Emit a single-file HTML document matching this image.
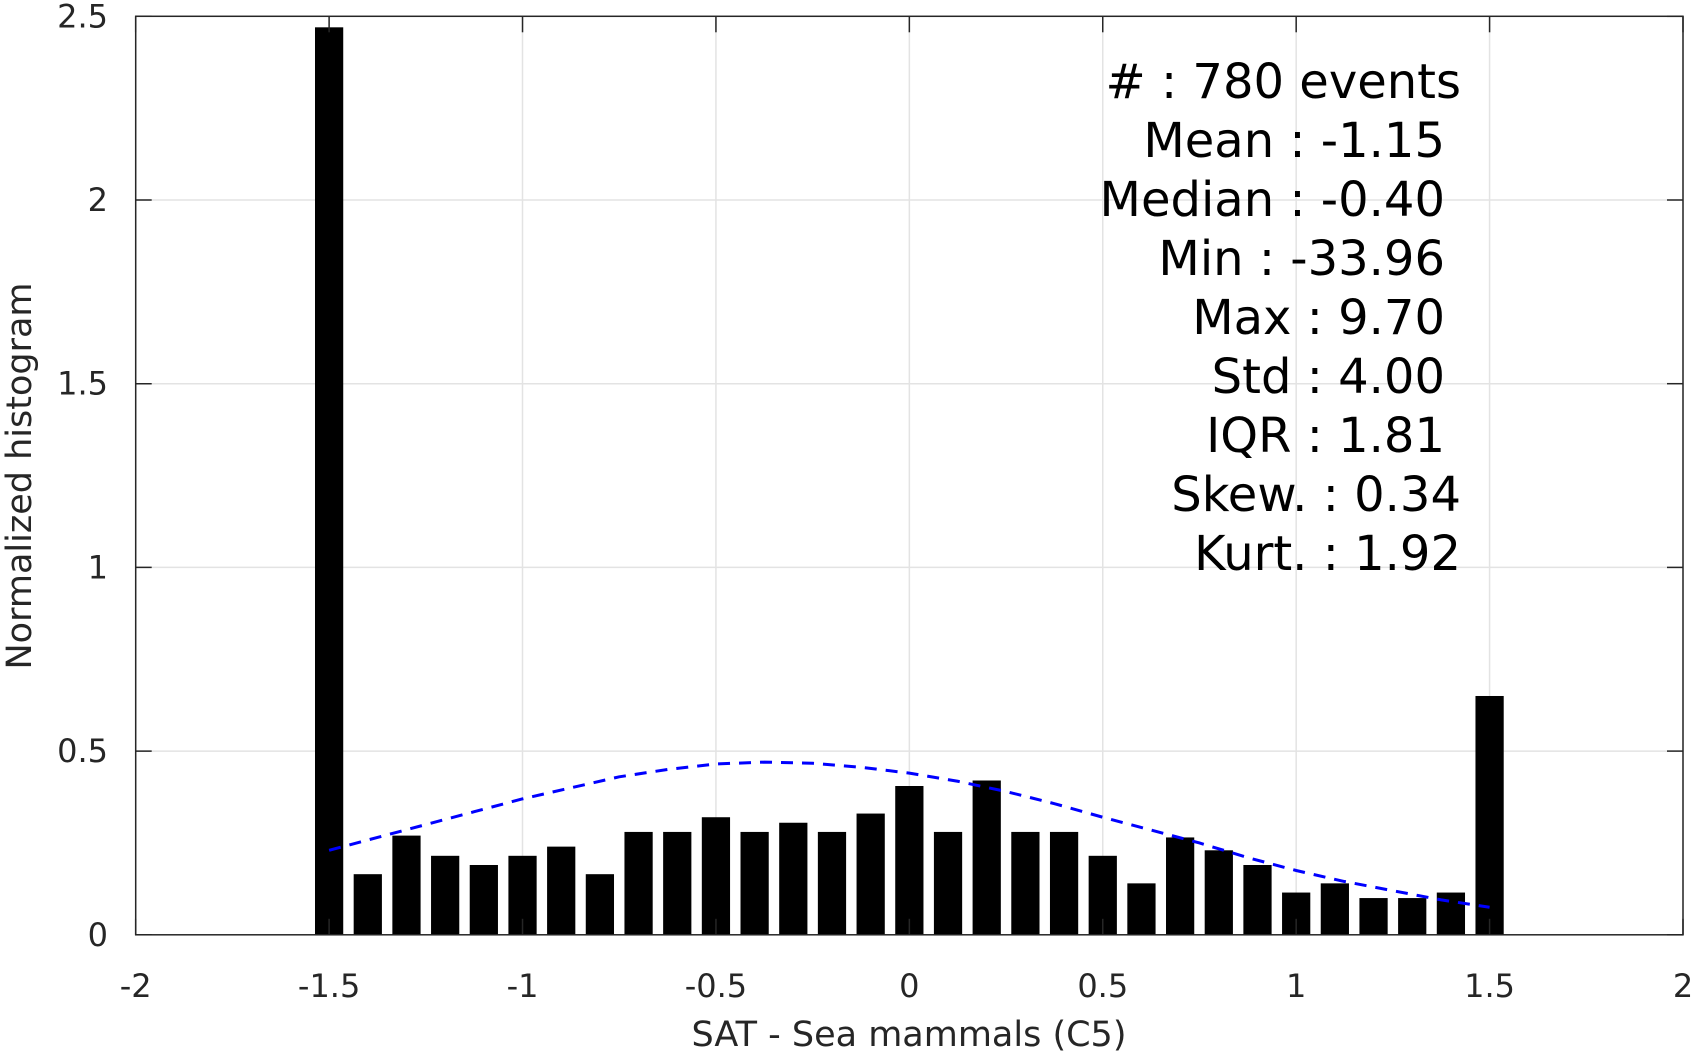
<!DOCTYPE html>
<html><head><meta charset="utf-8"><style>body{margin:0;background:#fff}svg{display:block}text{font-family:"DejaVu Sans","Liberation Sans",sans-serif;fill:#262626}</style></head>
<body>
<svg id="chart" width="1703" height="1053" xmlns="http://www.w3.org/2000/svg">
<g id="grid"></g>
<g id="bars"></g>
<g id="curve"></g>
<g id="axes"></g>
<g id="stats"></g>
<text x="909" y="1046" font-size="35" text-anchor="middle">SAT - Sea mammals (C5)</text>
<text transform="translate(31,476) rotate(-90)" font-size="35" text-anchor="middle">Normalized histogram</text>
</svg>
<script>
const binCenters=[-1.5,-1.4,-1.3,-1.2,-1.1,-1.0,-0.9,-0.8,-0.7,-0.6,-0.5,-0.4,-0.3,-0.2,-0.1,0,0.1,0.2,0.3,0.4,0.5,0.6,0.7,0.8,0.9,1.0,1.1,1.2,1.3,1.4,1.5];
const binValues=[2.47,0.165,0.27,0.215,0.19,0.215,0.24,0.165,0.28,0.28,0.32,0.28,0.305,0.28,0.33,0.405,0.28,0.42,0.28,0.28,0.215,0.14,0.265,0.23,0.19,0.115,0.14,0.1,0.1,0.115,0.65];
const curveX=[-1.5,-1.375,-1.25,-1.125,-1.0,-0.875,-0.75,-0.625,-0.5,-0.375,-0.25,-0.125,0,0.125,0.25,0.375,0.5,0.625,0.75,0.875,1.0,1.125,1.25,1.375,1.5];
const curveY=[0.23,0.265,0.30,0.335,0.37,0.40,0.43,0.45,0.465,0.47,0.467,0.456,0.44,0.418,0.39,0.357,0.32,0.285,0.25,0.21,0.175,0.145,0.12,0.095,0.075];
const xTicks=[-2,-1.5,-1,-0.5,0,0.5,1,1.5,2];
const xTickLabels=["-2","-1.5","-1","-0.5","0","0.5","1","1.5","2"];
const yTicks=[0,0.5,1,1.5,2,2.5];
const yTickLabels=["0","0.5","1","1.5","2","2.5"];
const statLines=["#  : 780 events","Mean : -1.15","Median : -0.40","Min : -33.96","Max : 9.70","Std : 4.00","IQR : 1.81","Skew. : 0.34","Kurt. : 1.92"];
const L=135.7,R=1683,T=16.3,B=934.8;
const xS=v=>L+(v+2)/4*(R-L);
const yS=v=>B-v/2.5*(B-T);
const NS="http://www.w3.org/2000/svg";
function mk(tag,parent,attrs){const e=document.createElementNS(NS,tag);for(const k in attrs)e.setAttribute(k,attrs[k]);parent.appendChild(e);return e;}
const grid=document.getElementById('grid'),bars=document.getElementById('bars'),axes=document.getElementById('axes'),curve=document.getElementById('curve'),stats=document.getElementById('stats');
xTicks.forEach((t,i)=>{
 const g=mk('line',grid,{x1:xS(t),x2:xS(t),y1:T,y2:B,stroke:'#e3e3e3','stroke-width':1.5});
 
 
 const a=mk('line',axes,{x1:xS(t),x2:xS(t),y1:B,y2:B-16,stroke:'#262626','stroke-width':1.5});
 
 
 const b=mk('line',axes,{x1:xS(t),x2:xS(t),y1:T,y2:T+16,stroke:'#262626','stroke-width':1.5});
 
 
 const l=mk('text',axes,{x:xS(t),y:997,'font-size':32,'text-anchor':'middle'});
 l.textContent=xTickLabels[i];
 
 
});
yTicks.forEach((t,i)=>{
 const g=mk('line',grid,{x1:L,x2:R,y1:yS(t),y2:yS(t),stroke:'#e3e3e3','stroke-width':1.5});
 
 
 const a=mk('line',axes,{x1:L,x2:L+16,y1:yS(t),y2:yS(t),stroke:'#262626','stroke-width':1.5});
 
 
 const b=mk('line',axes,{x1:R,x2:R-16,y1:yS(t),y2:yS(t),stroke:'#262626','stroke-width':1.5});
 
 
 const l=mk('text',axes,{x:108,y:yS(t)+11,'font-size':32,'text-anchor':'end'});
 l.textContent=yTickLabels[i];
 
 
});
const bw=0.073*(R-L)/4;
binCenters.forEach((c,i)=>{
 const r=mk('rect',bars,{x:xS(c)-bw/2,y:yS(binValues[i]),width:bw,height:B-yS(binValues[i]),fill:'#000'});
 
 
});
const p=mk('polyline',curve,{points:curveX.map((x,i)=>xS(x)+','+yS(curveY[i])).join(' '),fill:'none',stroke:'#0000ff','stroke-width':3,'stroke-dasharray':'12,9'});


const box=mk('rect',axes,{x:L,y:T,width:R-L,height:B-T,fill:'none',stroke:'#262626','stroke-width':1.5});


const rights=[1461,1445,1445,1445,1445,1445,1445,1461,1461];
statLines.forEach((s,i)=>{
 const t=mk('text',stats,{x:rights[i],y:98+i*59,'font-size':48,'text-anchor':'end','xml:space':'preserve'});
 t.style.fill='#000';
 t.textContent=s;
 
 
});
</script>
</body></html>
